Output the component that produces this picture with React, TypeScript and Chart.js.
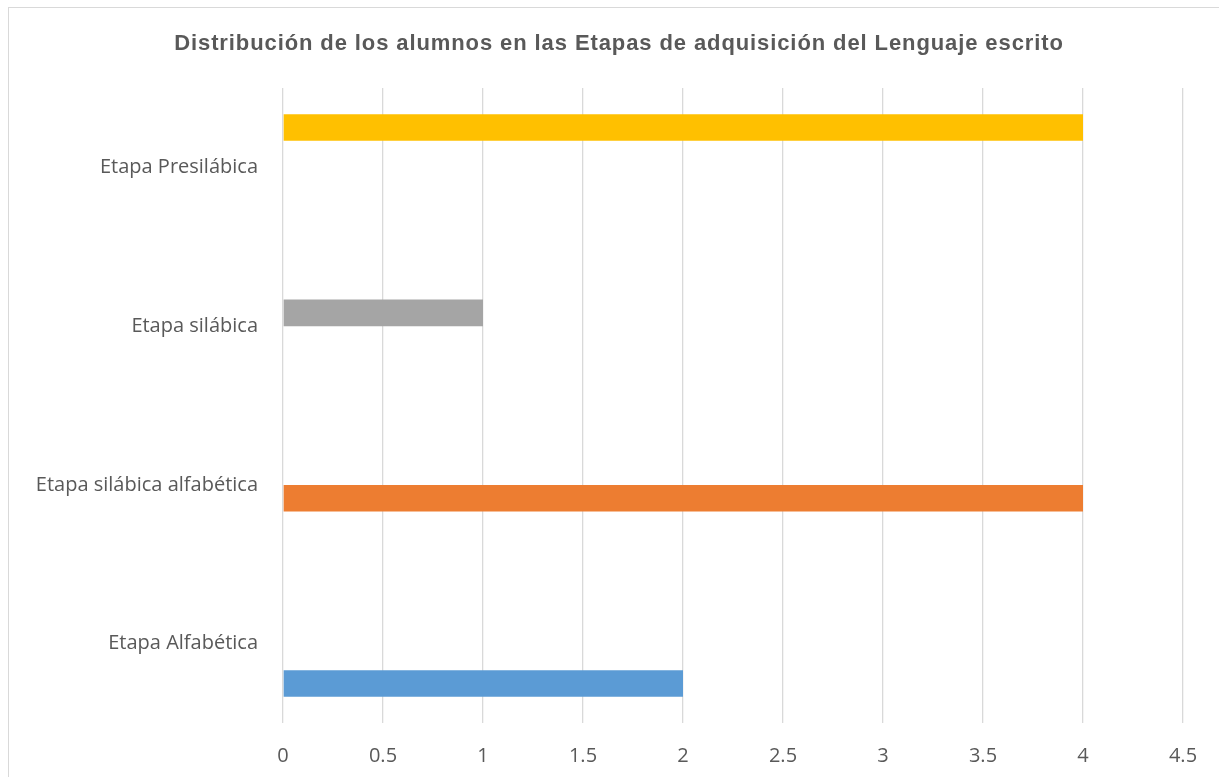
import React, { useEffect, useRef } from "react";
import { Chart, registerables } from "chart.js";

Chart.register(...registerables);

const TITLE = "Distribución de los alumnos en las Etapas de adquisición del Lenguaje escrito";
const categories = ["Etapa Presilábica", "Etapa silábica", "Etapa silábica alfabética", "Etapa Alfabética"];
const seriesPresilabica = [4, null, null, null];
const seriesSilabica = [null, 1, null, null];
const seriesSilabicaAlfabetica = [null, null, 4, null];
const seriesAlfabetica = [null, null, null, 2];
const xMin = 0;
const xMax = 4.5;
const xStep = 0.5;

const TEXT = "#595959";
const GRID = "#D9D9D9";

export default function App() {
  const ref = useRef<HTMLCanvasElement | null>(null);

  useEffect(() => {
    if (!ref.current) return;
    const framePlugin = {
      id: "frame",
      beforeDraw(chart: any) {
        const ctx = chart.ctx;
        ctx.save();
        ctx.fillStyle = "#ffffff";
        ctx.fillRect(0, 0, chart.width, chart.height);
        ctx.strokeStyle = GRID;
        ctx.lineWidth = 1;
        ctx.strokeRect(8.5, 7.5, chart.width + 50, chart.height + 50);
        ctx.restore();
      },
      afterDraw(chart: any) {
        const ctx = chart.ctx;
        ctx.save();
        ctx.fillStyle = TEXT;
        ctx.font = "bold 22px 'Liberation Sans', Arial, sans-serif";
        (ctx as any).letterSpacing = "0.9px";
        ctx.textAlign = "left";
        ctx.textBaseline = "alphabetic";
        const w = ctx.measureText(TITLE).width;
        ctx.fillText(TITLE, 619 - w / 2, 49.5);
        ctx.restore();
      },
    };
    const chart = new Chart(ref.current, {
      type: "bar",
      data: {
        labels: categories,
        datasets: [
          { label: "Etapa Presilábica", data: seriesPresilabica, backgroundColor: "#FFC000" },
          { label: "Etapa silábica", data: seriesSilabica, backgroundColor: "#A5A5A5" },
          { label: "Etapa silábica alfabética", data: seriesSilabicaAlfabetica, backgroundColor: "#ED7D31" },
          { label: "Etapa Alfabética", data: seriesAlfabetica, backgroundColor: "#5B9BD5" },
        ],
      },
      options: {
        indexAxis: "y",
        responsive: false,
        animation: false,
        layout: { padding: { left: 0, right: 36, top: 88, bottom: 0 } },
        datasets: { bar: { barPercentage: 1, categoryPercentage: 0.67 } },
        plugins: {
          legend: { display: false },
          title: { display: false },
          tooltip: { enabled: false },
        },
        scales: {
          x: {
            min: xMin,
            max: xMax,
            ticks: {
              stepSize: xStep,
              color: TEXT,
              font: { family: "'Open Sans'", size: 20 },
              padding: 21,
              callback: (v: any) => String(Number(v)),
            },
            grid: { color: GRID, lineWidth: 1.3, drawTicks: false },
            border: { display: false },
            afterFit(scale: any) {
              scale.height = 54;
            },
          },
          y: {
            ticks: {
              color: TEXT,
              font: { family: "'Open Sans'", size: 20 },
              padding: 25,
            },
            grid: { display: false, drawTicks: false },
            border: { display: false },
            afterFit(scale: any) {
              scale.width = 283;
            },
          },
        },
      },
      plugins: [framePlugin],
    });
    return () => chart.destroy();
  }, []);

  return (
    <div style={{ position: "fixed", left: 0, top: 0, width: 1219, height: 777, background: "#fff" }}>
      <canvas ref={ref} width={1219} height={777} style={{ display: "block" }} />
    </div>
  );
}
